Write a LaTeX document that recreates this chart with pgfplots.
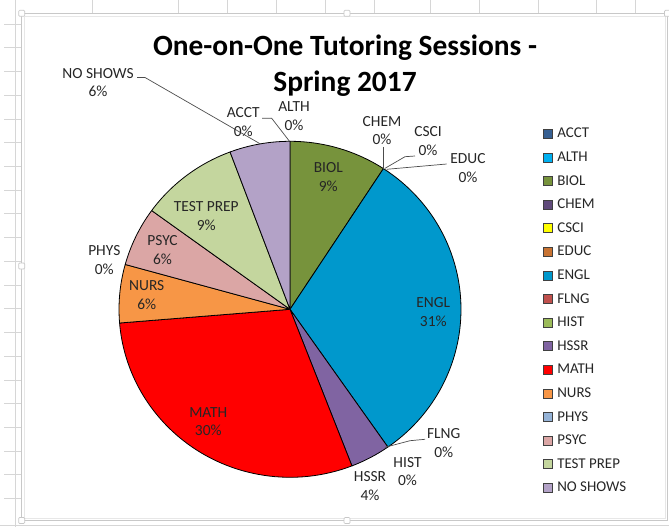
\documentclass[border=0pt]{standalone}
\usepackage{pgfplots}
\pgfplotsset{compat=1.18}
\usepackage{pgfplotstable}
\usepackage{fontspec}
\setmainfont{Carlito}

\definecolor{cACCT}{RGB}{55,96,146}
\definecolor{cALTH}{RGB}{0,176,240}
\definecolor{cBIOL}{RGB}{119,147,60}
\definecolor{cCHEM}{RGB}{96,74,123}
\definecolor{cCSCI}{RGB}{255,255,0}
\definecolor{cEDUC}{RGB}{200,115,50}
\definecolor{cENGL}{RGB}{0,152,204}
\definecolor{cFLNG}{RGB}{192,80,77}
\definecolor{cHIST}{RGB}{155,187,89}
\definecolor{cHSSR}{RGB}{128,100,162}
\definecolor{cMATH}{RGB}{255,0,0}
\definecolor{cNURS}{RGB}{247,150,70}
\definecolor{cPHYS}{RGB}{149,179,215}
\definecolor{cPSYC}{RGB}{219,166,165}
\definecolor{cTEST}{RGB}{196,214,158}
\definecolor{cNOSH}{RGB}{179,162,199}
\definecolor{gridgray}{RGB}{214,214,214}
\definecolor{framegray}{RGB}{200,200,200}

% share of sessions (percent), clockwise from 12 o'clock
\pgfplotstableread{
dept value color
ACCT 0 cACCT
ALTH 0 cALTH
BIOL 9.2 cBIOL
CHEM 0 cCHEM
CSCI 0 cCSCI
EDUC 0 cEDUC
ENGL 31.1 cENGL
FLNG 0 cFLNG
HIST 0 cHIST
HSSR 3.8 cHSSR
MATH 29.6 cMATH
NURS 5.6 cNURS
PHYS 0 cPHYS
PSYC 5.7 cPSYC
TESTPREP 9.3 cTEST
NOSHOWS 5.7 cNOSH
}\piedata

\begin{document}
\begin{tikzpicture}
\begin{scope}[x=1bp,y=-1bp]
\path[use as bounding box] (0,0) rectangle (669,527);
% spreadsheet background grid
\draw[gridgray, line width=0.8bp] (15,0) -- (15,527);
\foreach \k in {0,...,20} \draw[gridgray, line width=0.8bp] (4,{24+23.73*\k}) -- (21,{24+23.73*\k});
\foreach \x in {92.7,178.3,227.7,276.7,325,374,430.7,479.7,538.3,596.7,635.7}
  \draw[gridgray, line width=0.8bp] (\x,0) -- (\x,13);
\draw[gridgray, line width=0.8bp] (0,525) -- (669,525);
% chart frame
\draw[framegray, line width=0.9bp] (21.7,13.3) rectangle (667.5,520.5);
\draw[gridgray!60, line width=0.6bp] (24.5,16) rectangle (665,518);
\foreach \p in {(21.7,13.3),(347,13.3),(21.7,266),(21.7,520.5),(347,520.5),(667.5,13.3)}
  \draw[framegray, fill=white, rounded corners=1bp, line width=0.7bp] \p ++(-3,-3) rectangle ++(6,6);
\end{scope}

\begin{axis}[
  at={(290bp,-309.3bp)}, anchor=origin,
  x=171bp, y=168bp,
  xmin=-1, xmax=1, ymin=-1, ymax=1,
  hide axis, clip=false,
  legend cell align=left,
  legend image code/.code={\filldraw[#1] (0bp,-4.5bp) rectangle (9bp,4.5bp);},
  legend style={
    at={(axis description cs:1.2406,1.04)}, anchor=north west,
    draw=none, fill=none, inner sep=0pt, outer sep=0pt,
    font=\fontsize{15}{15}\selectfont,
    nodes={inner sep=0pt, text height=10bp, text depth=2bp, text=black!85},
    row sep=11.6bp,
    /tikz/every odd column/.append style={column sep=4.4bp},
  },
]
\xdef\startang{90}
\pgfplotsinvokeforeach{0,...,15}{
  \pgfplotstablegetelem{#1}{value}\of\piedata
  \let\val\pgfplotsretval
  \pgfplotstablegetelem{#1}{color}\of\piedata
  \let\col\pgfplotsretval
  \ifdim\val pt>0pt
    \pgfmathsetmacro\a{\startang}
    \pgfmathsetmacro\b{\startang-3.6*\val}
    \pgfmathsetmacro\ca{cos(\a)}
    \pgfmathsetmacro\sa{sin(\a)}
    \edef\temp{\noexpand\filldraw[fill=\col, draw=black, line width=0.8bp, line join=round]
      (axis cs:0,0) -- (axis cs:\ca,\sa)
      arc[start angle=\a, end angle=\b, x radius=171bp, y radius=168bp] -- cycle;}
    \temp
    \xdef\startang{\b}
  \fi
}
\addlegendimage{fill=cACCT, draw=black!75, line width=0.6bp}\addlegendentry{ACCT}
\addlegendimage{fill=cALTH, draw=black!75, line width=0.6bp}\addlegendentry{ALTH}
\addlegendimage{fill=cBIOL, draw=black!75, line width=0.6bp}\addlegendentry{BIOL}
\addlegendimage{fill=cCHEM, draw=black!75, line width=0.6bp}\addlegendentry{CHEM}
\addlegendimage{fill=cCSCI, draw=black!75, line width=0.6bp}\addlegendentry{CSCI}
\addlegendimage{fill=cEDUC, draw=black!75, line width=0.6bp}\addlegendentry{EDUC}
\addlegendimage{fill=cENGL, draw=black!75, line width=0.6bp}\addlegendentry{ENGL}
\addlegendimage{fill=cFLNG, draw=black!75, line width=0.6bp}\addlegendentry{FLNG}
\addlegendimage{fill=cHIST, draw=black!75, line width=0.6bp}\addlegendentry{HIST}
\addlegendimage{fill=cHSSR, draw=black!75, line width=0.6bp}\addlegendentry{HSSR}
\addlegendimage{fill=cMATH, draw=black!75, line width=0.6bp}\addlegendentry{MATH}
\addlegendimage{fill=cNURS, draw=black!75, line width=0.6bp}\addlegendentry{NURS}
\addlegendimage{fill=cPHYS, draw=black!75, line width=0.6bp}\addlegendentry{PHYS}
\addlegendimage{fill=cPSYC, draw=black!75, line width=0.6bp}\addlegendentry{PSYC}
\addlegendimage{fill=cTEST, draw=black!75, line width=0.6bp}\addlegendentry{TEST PREP}
\addlegendimage{fill=cNOSH, draw=black!75, line width=0.6bp}\addlegendentry{NO SHOWS}
\end{axis}

\begin{scope}[x=1bp,y=-1bp]
% title
\node[anchor=base, font=\fontsize{29.5}{34}\selectfont\bfseries] at (345,55.5) {One-on-One Tutoring Sessions -};
\node[anchor=base, font=\fontsize{29.5}{34}\selectfont\bfseries] at (345,91.5) {Spring 2017};
% leader lines
\draw[black!70, line width=0.7bp] (137,77.5) -- (145,77.5) -- (260.3,143.9);
\draw[black!70, line width=0.7bp] (262,118.3) -- (271.7,118.3) -- (289.5,141.3);
\draw[black!70, line width=0.7bp] (383.3,147) -- (383.3,169);
\draw[black!70, line width=0.7bp] (385,168.3) -- (405,156.7) -- (415,156);
\draw[black!70, line width=0.7bp] (386.7,169.3) -- (446.7,164);
\draw[black!70, line width=0.7bp] (385,447.3) -- (410,440.7) -- (425,439.3);
% data labels
\begin{scope}[every node/.style={align=center, text=black!85, inner sep=0pt, font=\fontsize{15.5}{18.8}\selectfont}]
\node at (98,82.5) {NO SHOWS\\6\%};
\node at (243.3,122) {ACCT\\0\%};
\node at (294,116) {ALTH\\0\%};
\node at (382,130.5) {CHEM\\0\%};
\node at (428,141) {CSCI\\0\%};
\node at (468,168) {EDUC\\0\%};
\node at (328.3,177) {BIOL\\9\%};
\node at (206.3,216) {TEST PREP\\9\%};
\node at (162.5,250) {PSYC\\6\%};
\node at (104.3,260.3) {PHYS\\0\%};
\node at (146.7,294.7) {NURS\\6\%};
\node at (433.3,312) {ENGL\\31\%};
\node at (208.3,421.7) {MATH\\30\%};
\node at (443.7,443) {FLNG\\0\%};
\node at (407.5,471.5) {HIST\\0\%};
\node at (370,486.3) {HSSR\\4\%};
\end{scope}
\end{scope}
\end{tikzpicture}
\end{document}
